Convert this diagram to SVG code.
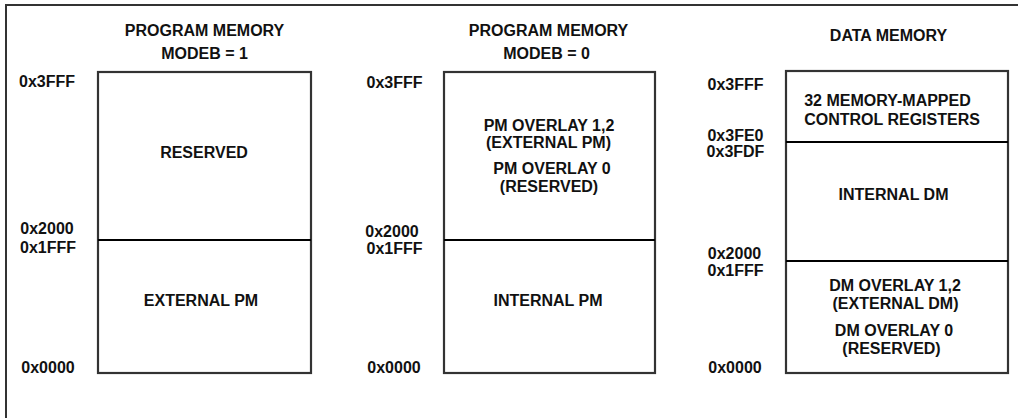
<svg xmlns="http://www.w3.org/2000/svg" width="1018" height="418" viewBox="0 0 1018 418">
<style>
text{font-family:"Liberation Sans",Arial,sans-serif;font-weight:bold;font-size:16px;fill:#111;text-anchor:middle}
.box{fill:#fff;stroke:#333;stroke-width:2.2}
.div{stroke:#000;stroke-width:2;fill:none}
.frame{fill:#fff;stroke:#333;stroke-width:2}
</style>
<rect class="frame" x="6" y="5" width="1030" height="430"/>

<g id="pm-modeb1">
<text x="204.5" y="36">PROGRAM MEMORY</text>
<text x="204.5" y="59">MODEB = 1</text>
<rect class="box" x="98" y="72" width="213" height="301"/>
<line class="div" x1="98" y1="240" x2="311" y2="240"/>
<text x="47" y="87">0x3FFF</text>
<text x="47" y="234">0x2000</text>
<text x="48" y="253">0x1FFF</text>
<text x="48" y="373">0x0000</text>
<g id="pm1-reserved"><text x="204" y="158">RESERVED</text></g>
<g id="pm1-external"><text x="201" y="306">EXTERNAL PM</text></g>
</g>

<g id="pm-modeb0">
<text x="548.5" y="36">PROGRAM MEMORY</text>
<text x="546.5" y="59">MODEB = 0</text>
<rect class="box" x="444" y="72" width="211" height="301"/>
<line class="div" x1="444" y1="240" x2="655" y2="240"/>
<text x="394.5" y="88">0x3FFF</text>
<text x="392" y="237">0x2000</text>
<text x="394.5" y="254">0x1FFF</text>
<text x="394" y="373">0x0000</text>
<g id="pm0-overlay">
<text x="549" y="131">PM OVERLAY 1,2</text>
<text x="548.5" y="148">(EXTERNAL PM)</text>
<text x="552" y="174">PM OVERLAY 0</text>
<text x="549" y="192">(RESERVED)</text>
</g>
<g id="pm0-internal"><text x="548" y="306">INTERNAL PM</text></g>
</g>

<g id="dm">
<text x="888.5" y="41">DATA MEMORY</text>
<rect class="box" x="786" y="71" width="222" height="302"/>
<line class="div" x1="786" y1="142" x2="1008" y2="142"/>
<line class="div" x1="786" y1="261" x2="1008" y2="261"/>
<text x="735.5" y="90">0x3FFF</text>
<text x="735.5" y="141">0x3FE0</text>
<text x="735.5" y="157">0x3FDF</text>
<text x="734.5" y="259">0x2000</text>
<text x="735.5" y="276">0x1FFF</text>
<text x="735" y="373">0x0000</text>
<g id="dm-registers">
<text x="887.5" y="106">32 MEMORY-MAPPED</text>
<text x="892" y="125">CONTROL REGISTERS</text>
</g>
<g id="dm-internal"><text x="893.5" y="200">INTERNAL DM</text></g>
<g id="dm-overlay">
<text x="895" y="291">DM OVERLAY 1,2</text>
<text x="895.5" y="309">(EXTERNAL DM)</text>
<text x="894" y="336">DM OVERLAY 0</text>
<text x="891.5" y="354">(RESERVED)</text>
</g>
</g>
</svg>
